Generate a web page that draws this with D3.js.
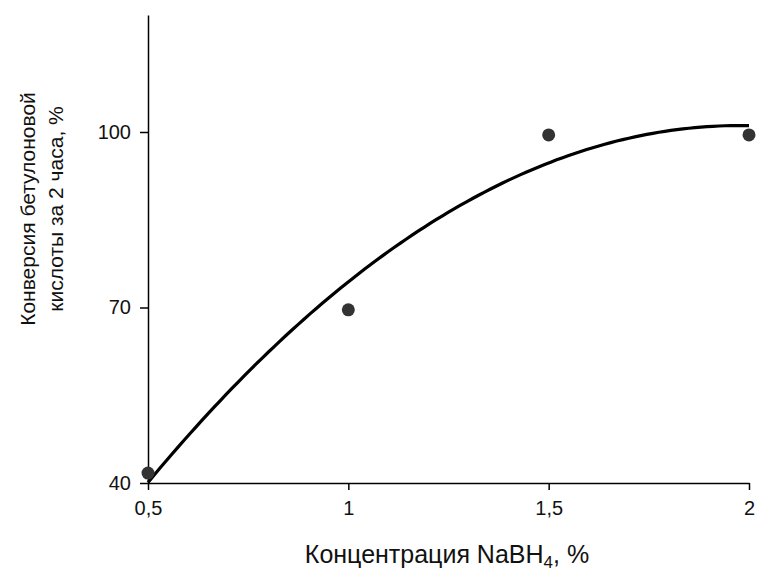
<!DOCTYPE html>
<html>
<head>
<meta charset="utf-8">
<script src="https://cdn.jsdelivr.net/npm/d3@7"></script>
<style>
  html, body { margin: 0; padding: 0; background: #fff; }
  svg text { font-family: "Liberation Sans", Arial, sans-serif; fill: #111; }
</style>
</head>
<body>
<svg id="chart" width="758" height="572"></svg>
<script>
// NaBH4 concentration (%) and conversion of betulonic acid after 2 h (%)
const concentrations = [0.5, 1, 1.5, 2];
const conversion = [41.7, 69.6, 99.5, 99.5];
const xTicks = [0.5, 1, 1.5, 2];
const xTickLabels = ["0,5", "1", "1,5", "2"];
const yTicks = [40, 70, 100];

const svg = d3.select("#chart");
const x = d3.scaleLinear().domain([0.5, 2]).range([148, 749]);
const y = d3.scaleLinear().domain([40, 120]).range([483, 15]);

// Second-order polynomial trend line fitted by least squares
function quadFit(xs, ys) {
  const n = xs.length;
  let s = [0, 0, 0, 0, 0], t = [0, 0, 0];
  for (let i = 0; i < n; i++) {
    for (let k = 0; k < 5; k++) s[k] += Math.pow(xs[i], k);
    for (let k = 0; k < 3; k++) t[k] += ys[i] * Math.pow(xs[i], k);
  }
  const A = [[s[0], s[1], s[2], t[0]], [s[1], s[2], s[3], t[1]], [s[2], s[3], s[4], t[2]]];
  for (let i = 0; i < 3; i++) {
    for (let j = i + 1; j < 3; j++) {
      const f = A[j][i] / A[i][i];
      for (let k = i; k < 4; k++) A[j][k] -= f * A[i][k];
    }
  }
  const c = [0, 0, 0];
  for (let i = 2; i >= 0; i--) {
    let v = A[i][3];
    for (let k = i + 1; k < 3; k++) v -= A[i][k] * c[k];
    c[i] = v / A[i][i];
  }
  return xv => c[0] + c[1] * xv + c[2] * xv * xv;
}
const trend = quadFit(concentrations, conversion);
const trendPts = d3.range(0, 101).map(i => {
  const xv = 0.5 + 1.5 * i / 100;
  return [xv, trend(xv)];
});

// Axes
const xAxis = d3.axisBottom(x).tickValues(xTicks)
  .tickFormat((d, i) => xTickLabels[i]).tickSize(7).tickSizeOuter(0).tickPadding(11);
const yAxis = d3.axisLeft(y).tickValues(yTicks).tickSize(8).tickSizeOuter(0).tickPadding(9);

const gx = svg.append("g").attr("transform", "translate(0,483)").call(xAxis);
const gy = svg.append("g").attr("transform", "translate(148,0)").call(yAxis);
[gx, gy].forEach(g => {
  g.select(".domain").attr("stroke", "#000").attr("stroke-width", 1.5);
  g.selectAll(".tick line").attr("stroke", "#000").attr("stroke-width", 1.5);
  g.selectAll(".tick text").attr("font-size", 20).attr("fill", "#111")
    .attr("font-family", "Liberation Sans, Arial, sans-serif");
});

// Trend line
svg.append("path")
  .datum(trendPts)
  .attr("fill", "none")
  .attr("stroke", "#000")
  .attr("stroke-width", 3.2)
  .attr("d", d3.line().x(d => x(d[0])).y(d => y(d[1])));

// Measured points
svg.append("g").selectAll("circle")
  .data(concentrations.map((c, i) => [c, conversion[i]]))
  .join("circle")
  .attr("cx", d => x(d[0]))
  .attr("cy", d => y(d[1]))
  .attr("r", 6.5)
  .attr("fill", "#333");

// Axis titles
const xt = svg.append("text")
  .attr("x", 447).attr("y", 563)
  .attr("text-anchor", "middle")
  .attr("font-size", 25);
xt.append("tspan").text("Концентрация NaBH");
xt.append("tspan").text("4").attr("font-size", 17).attr("dy", 5);
xt.append("tspan").text(", %").attr("dy", -5);

const yt = svg.append("text")
  .attr("transform", "translate(0,209) rotate(-90)")
  .attr("text-anchor", "middle")
  .attr("font-size", 21);
yt.append("tspan").attr("x", 0).attr("y", 35).text("Конверсия бетулоновой");
yt.append("tspan").attr("x", 0).attr("y", 63).text("кислоты за 2 часа, %");
</script>
</body>
</html>
